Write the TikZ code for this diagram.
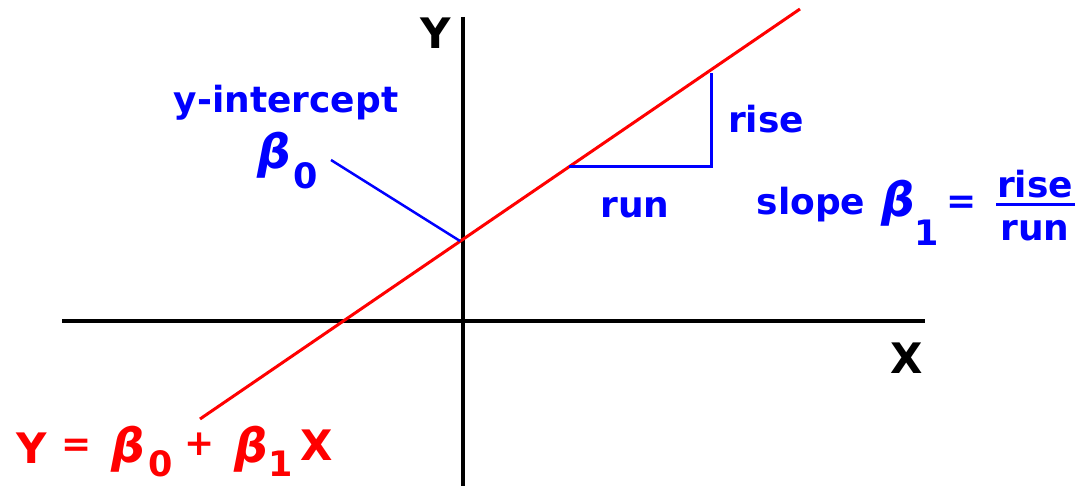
\documentclass[tikz,border=0pt]{standalone}
\usepackage{fontspec}
\setmainfont{DejaVu Sans}
\definecolor{pblue}{RGB}{0,0,255}
\definecolor{pred}{RGB}{255,0,0}
\tikzset{
  axis/.style={line width=4pt,black},
  regline/.style={line width=3pt,pred},
  bluel/.style={line width=3pt,pblue},
  lbl/.style={inner sep=0pt,font=\bfseries\fontsize{36}{36}\selectfont},
  big/.style={inner sep=0pt,font=\bfseries\fontsize{42}{42}\selectfont},
  beta/.style={inner sep=0pt,font=\bfseries\itshape\fontsize{47}{47}\selectfont},
  sub/.style={inner sep=0pt,font=\bfseries\fontsize{35}{35}\selectfont},
  frac/.style={inner sep=0pt,font=\bfseries\fontsize{36}{36}\selectfont},
}
\begin{document}
\begin{tikzpicture}[x=1pt,y=-1pt]
\useasboundingbox (0,0) rectangle (1087,486);
% axes
\coordinate (xl) at (62,321);
\coordinate (xr) at (925,321);
\coordinate (yt) at (463,17);
\coordinate (yb) at (463,486);
\draw[axis] (xl) -- (xr);
\draw[axis] (yt) -- (yb);
\node[big] (Ylab) at (436,33) {Y};
\node[big] (Xlab) at (907,358) {X};
% regression line
\coordinate (rs) at (200,419);
\coordinate (re) at (800,9);
\draw[regline] (rs) -- (re);
% intercept
\node[lbl,pblue,anchor=base] (yint) at (286,113) {y-intercept};
\node[beta,pblue] (b0) at (274,155) {β};
\node[sub,pblue] (b0s) at (306,176) {0};
\coordinate (ls) at (331,160);
\coordinate (le) at (460,241);
\draw[line width=2.5pt,pblue] (ls) -- (le);
% triangle
\coordinate (ta) at (569,167);
\coordinate (tc) at (711,167);
\coordinate (tt) at (711,73);
\draw[bluel] (ta) -- (tc) -- (tt);
\node[lbl,pblue,anchor=base] (rise) at (766,133) {rise};
\node[lbl,pblue,anchor=base] (run) at (635,218) {run};
% slope
\node[lbl,pblue,anchor=base] (slope) at (811,215) {slope};
\node[beta,pblue] (b1) at (898,203) {β};
\node[sub,pblue] (b1s) at (927,233) {1};
\node[lbl,pblue] (eq1) at (962,205) {=};
\node[frac,pblue,anchor=base] (fr) at (1035,198) {rise};
\node[frac,pblue,anchor=base] (fn) at (1035,241) {run};
\coordinate (fbl) at (996,205);
\coordinate (fbr) at (1075,205);
\draw[line width=3pt,pblue] (fbl) -- (fbr);
% equation
\node[big,pred] (eY) at (32,448) {Y};
\node[lbl,pred] (eEq) at (77,448) {=};
\node[beta,pred] (eb0) at (128,449) {β};
\node[sub,pred] (eb0s) at (161,464) {0};
\node[lbl,pred] (ePl) at (200,444) {+};
\node[beta,pred] (eb1) at (251,449) {β};
\node[sub,pred] (eb1s) at (281,464) {1};
\node[big,pred] (eX) at (317,445) {X};
\end{tikzpicture}
\end{document}
